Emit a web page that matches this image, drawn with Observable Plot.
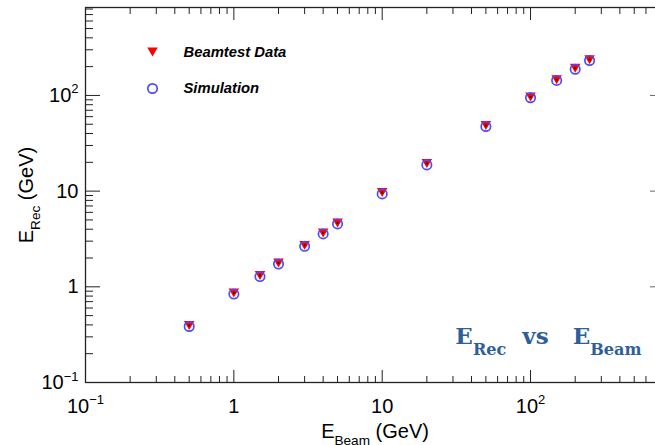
<!DOCTYPE html>
<html><head><meta charset="utf-8">
<script src="https://cdn.jsdelivr.net/npm/d3@7"></script>
<script src="https://cdn.jsdelivr.net/npm/@observablehq/plot@0.6"></script>
<style>
body{margin:0;background:#fff;}
#chart{width:655px;height:445px;overflow:hidden;}
</style>
</head><body><div id="chart"></div>
<script>
// ---- data ----
const beamEnergy = [0.5, 1, 1.5, 2, 3, 4, 5, 10, 20, 50, 100, 150, 200, 250];
const recData    = [0.395, 0.86, 1.31, 1.77, 2.71, 3.65, 4.64, 9.65, 19.4, 48.4, 96.5, 146, 192, 236];
const recSim     = [0.385, 0.84, 1.28, 1.73, 2.65, 3.57, 4.54, 9.35, 18.8, 47.4, 94.6, 143.5, 188, 232];
const xTickValues = [0.1, 1, 10, 100];
const xTickLabels = ["10^{\u22121}", "1", "10", "10^{2}"];
const yTickValues = [0.1, 1, 10, 100];
const yTickLabels = ["10^{\u22121}", "1", "10", "10^{2}"];
const legendLabels = ["Beamtest Data", "Simulation"];
const xTitle = "E_{Beam} (GeV)";
const yTitle = "E_{Rec} (GeV)";
const annotation = "E_{Rec}  vs   E_{Beam}";
const xDomain = [0.1, 800];
const yDomain = [0.1, 830];

const dataPts = beamEnergy.map((b, i) => ({beam: b, rec: recData[i]}));
const simPts = beamEnergy.map((b, i) => ({beam: b, rec: recSim[i]}));

function minorTicks([lo, hi]) {
  const t = [];
  for (let e = Math.floor(Math.log10(lo)); e <= Math.ceil(Math.log10(hi)); e++)
    for (let m = 2; m <= 9; m++) {
      const v = +(m * Math.pow(10, e)).toPrecision(3);
      if (v > lo && v < hi) t.push(v);
    }
  return t;
}
const xMinor = minorTicks(xDomain);
const yMinor = minorTicks(yDomain);

const triangleDown = {
  draw(ctx, size) {
    const r = Math.sqrt(size / Math.PI);
    const h = 2.3 * r, w = 2.7 * r;
    ctx.moveTo(0, h / 2);
    ctx.lineTo(w / 2, -h / 2);
    ctx.lineTo(-w / 2, -h / 2);
    ctx.closePath();
  }
};

const red = "#ff0000", blue = "#4b4bff", ink = "#222";
const blank = () => "";

const chart = Plot.plot({
  width: 655, height: 445,
  marginLeft: 85, marginRight: -9, marginTop: 7, marginBottom: 63,
  style: {fontFamily: "'Liberation Sans', Arial, Helvetica, sans-serif", fontSize: "20px", background: "#fff", color: "#000"},
  x: {type: "log", domain: xDomain},
  y: {type: "log", domain: yDomain},
  marks: [
    // inward ticks
    Plot.axisX({ticks: xTickValues, anchor: "bottom", tickSize: -12, tickFormat: blank, label: null, stroke: ink}),
    Plot.axisX({ticks: xMinor, anchor: "bottom", tickSize: -6, tickFormat: blank, label: null, stroke: ink}),
    Plot.axisX({ticks: xTickValues, anchor: "top", tickSize: -12, tickFormat: blank, label: null, stroke: ink}),
    Plot.axisX({ticks: xMinor, anchor: "top", tickSize: -6, tickFormat: blank, label: null, stroke: ink}),
    Plot.axisY({ticks: yTickValues, anchor: "left", tickSize: -15, tickFormat: blank, label: null, stroke: ink}),
    Plot.axisY({ticks: yMinor, anchor: "left", tickSize: -8, tickFormat: blank, label: null, stroke: ink}),
    Plot.axisY({ticks: yTickValues, anchor: "right", tickSize: -15, tickFormat: blank, label: null, stroke: "#666"}),
    // tick labels
    Plot.axisX({ticks: xTickValues, anchor: "bottom", tickSize: 0, tickPadding: 16, label: null,
      tickFormat: d => xTickLabels[xTickValues.indexOf(d)]}),
    Plot.axisY({ticks: yTickValues, anchor: "left", tickSize: 0, tickPadding: 7, label: null,
      tickFormat: d => yTickLabels[yTickValues.indexOf(d)]}),
    Plot.frame({stroke: ink, strokeWidth: 1.3}),
    // axis titles
    Plot.text([xTitle], {frameAnchor: "bottom", dy: 55, lineAnchor: "bottom", text: d => d, fontSize: 20}),
    Plot.text([yTitle], {frameAnchor: "left", dx: -53, rotate: -90, lineAnchor: "bottom", textAnchor: "middle", text: d => d, fontSize: 20}),
    // data
    Plot.dot(dataPts, {x: "beam", y: "rec", symbol: triangleDown, r: 3.9, fill: red, stroke: "none"}),
    Plot.dot(simPts, {x: "beam", y: "rec", r: 4.7, fill: "none", stroke: blue, strokeWidth: 1.7}),
    Plot.dot(dataPts, {x: "beam", y: "rec", r: 1, fill: "#000", stroke: "none"}),
    // legend
    Plot.dot([legendLabels[0]], {frameAnchor: "top-left", dx: 67, dy: 44.5, symbol: triangleDown, r: 3.9, fill: red}),
    Plot.dot([legendLabels[1]], {frameAnchor: "top-left", dx: 67, dy: 81, r: 4.7, fill: "none", stroke: blue, strokeWidth: 1.7}),
    Plot.text([legendLabels[0]], {frameAnchor: "top-left", dx: 98, dy: 44.7, text: d => d, textAnchor: "start", lineAnchor: "middle", fontSize: 14.8, fontWeight: "bold", fontStyle: "italic"}),
    Plot.text([legendLabels[1]], {frameAnchor: "top-left", dx: 98, dy: 81, text: d => d, textAnchor: "start", lineAnchor: "middle", fontSize: 14.8, fontWeight: "bold", fontStyle: "italic"}),
    // annotation
    Plot.text([annotation], {frameAnchor: "bottom-right", dx: -23, dy: -39, text: d => d, textAnchor: "end", lineAnchor: "bottom",
      fontFamily: "'DejaVu Serif', serif", fontWeight: "bold", fontSize: 23, fill: "#2e5f9b"})
  ]
});

document.getElementById("chart").appendChild(chart);

// rich text: _{sub} and ^{sup}
const richStyle = {
  [annotation]: {subSize: 0.7, subShift: 0.48, supSize: 0.65, supShift: 0.42}
};
const defaultRich = {subSize: 0.68, subShift: 0.36, supSize: 0.65, supShift: 0.42};
const NS = "http://www.w3.org/2000/svg";
chart.querySelectorAll("text").forEach(el => {
  const s = el.textContent;
  if (!/[_^]\{/.test(s)) return;
  const fs = parseFloat(getComputedStyle(el).fontSize);
  const st = richStyle[s] || defaultRich;
  while (el.firstChild) el.removeChild(el.firstChild);
  const re = /([_^])\{([^}]*)\}|([^_^]+)/g;
  let m, off = 0;
  while ((m = re.exec(s))) {
    const t = document.createElementNS(NS, "tspan");
    if (m[1]) {
      const sub = m[1] === "_";
      const shift = (sub ? st.subShift : -st.supShift) * fs;
      t.setAttribute("font-size", (sub ? st.subSize : st.supSize) * fs);
      t.setAttribute("dy", shift - off);
      off = shift;
      t.textContent = m[2];
    } else {
      if (off) t.setAttribute("dy", -off);
      off = 0;
      t.textContent = m[3];
    }
    el.appendChild(t);
  }
});
</script>
</body></html>
